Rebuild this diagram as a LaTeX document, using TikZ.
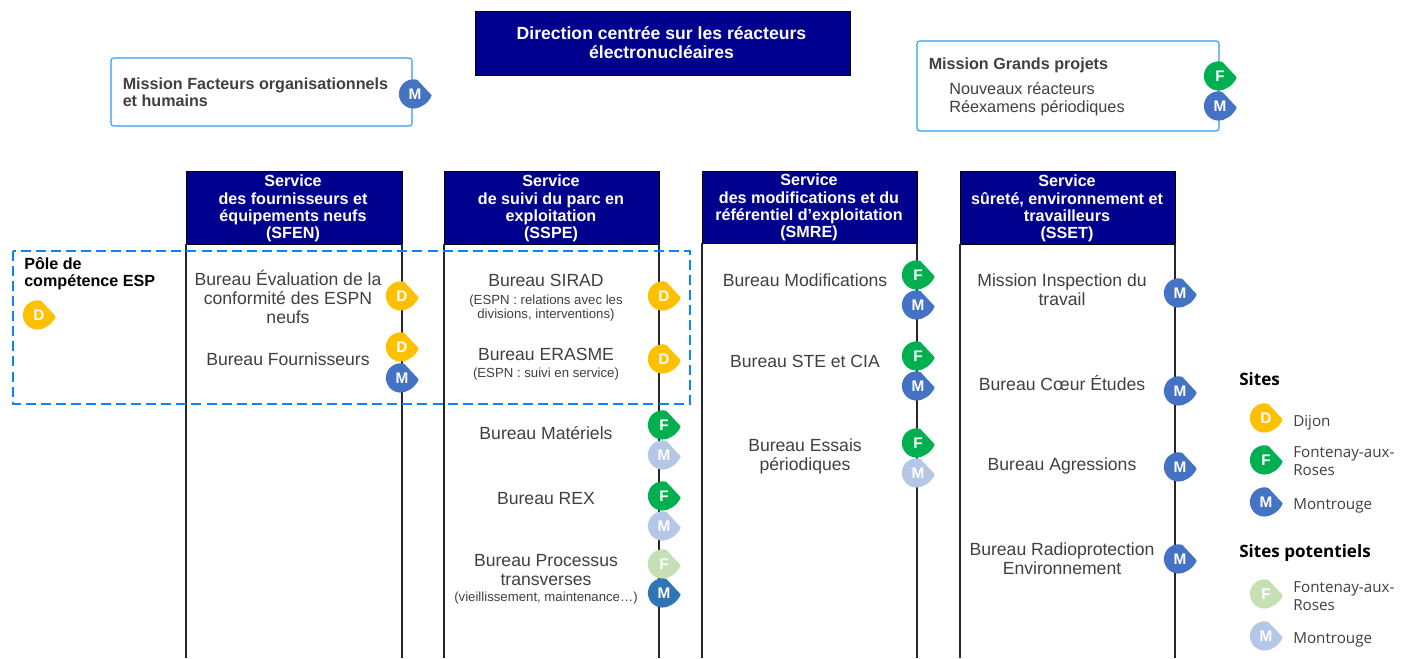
\documentclass[tikz,border=0pt]{standalone}
\usepackage{fontspec}
\setmainfont{Liberation Sans}
\newfontfamily\legfont{Open Sans}
\definecolor{navy}{HTML}{00008E}
\definecolor{txt}{HTML}{404040}
\definecolor{cD}{HTML}{FFC000}
\definecolor{cF}{HTML}{00B050}
\definecolor{cM}{HTML}{4472C4}
\definecolor{cMd}{HTML}{2E75B6}
\definecolor{cFp}{HTML}{C5E0B4}
\definecolor{cMp}{HTML}{B4C7E7}
\definecolor{boxblue}{HTML}{2E9BF0}
\definecolor{dashblue}{HTML}{0A84FF}
\newcommand{\fsz}[2]{\fontsize{#1}{#2}\selectfont}
% \badge{name}{x}{y}{colour}{letter}
\newcommand{\badge}[5]{%
  \fill[#4] (#2+2.3,-#3+14.1) -- (#2+16.7,-#3-1.3) .. controls (#2+15,-#3-6) and (#2+11,-#3-10.5) .. (#2+5.8,-#3-12.6) arc[start angle=-60,end angle=-285,radius=14.6] -- cycle;
  \node[badgetext] (#1) at (#2,-#3) {#5};}
\tikzset{
  x=0.75pt,y=0.75pt,
  badgetext/.style={text=white,font=\bfseries\fsz{11.5}{11.5},inner sep=0pt},
  head/.style={fill=navy,draw=black,line width=.5pt,inner sep=0pt,outer sep=0pt,anchor=north west},
  headtext/.style={text=white,font=\bfseries\fsz{12.1}{13},align=center,inner sep=0pt},
  bur/.style={text=txt,font=\fsz{13.2}{14.25},align=center,inner sep=0pt},
  sub/.style={text=txt,font=\fsz{9.9}{10.5},align=center,inner sep=0pt},
  mission/.style={draw=boxblue,line width=.8pt,rounded corners=2pt,fill=white,anchor=north west,inner sep=0pt,outer sep=0pt},
  boxtext/.style={text=txt,font=\bfseries\fsz{12.1}{12.75},align=left,inner sep=0pt,anchor=west},
  rail/.style={draw=black!85,line width=.95pt},
  leg/.style={text=txt,font=\legfont\fsz{11.4}{14},align=left,inner sep=0pt,anchor=west},
  leghead/.style={text=black,font=\legfont\bfseries\fsz{12.8}{13},inner sep=0pt,anchor=west},
}
\begin{document}
\begin{tikzpicture}
\useasboundingbox[fill=white] (0,0) rectangle (1411,-658);
% bottoms
\foreach \n/\x in {a/186,b/402,c/444,d/659,e/702,f/917,g/960,h/1175}{\coordinate (\n) at (\x,-658);}
% headers
\node[head,minimum width=216*0.75pt,minimum height=73*0.75pt] (sfen) at (186,-171) {};
\node[head,minimum width=215*0.75pt,minimum height=73*0.75pt] (sspe) at (444,-171) {};
\node[head,minimum width=215*0.75pt,minimum height=72*0.75pt] (smre) at (702,-171) {};
\node[head,minimum width=215*0.75pt,minimum height=73*0.75pt] (sset) at (960,-171) {};
\draw[rail] (sfen.south west) -- (a);
\draw[rail] (sfen.south east) -- (b);
\draw[rail] (sspe.south west) -- (c);
\draw[rail] (sspe.south east) -- (d);
\draw[rail] (smre.south west) -- (e);
\draw[rail] (smre.south east) -- (f);
\draw[rail] (sset.south west) -- (g);
\draw[rail] (sset.south east) -- (h);
\node[headtext] (t1) at (293,-208.5) {Service\\des fournisseurs et\\équipements neufs\\(SFEN)};
\node[headtext] (t2) at (551,-208.5) {Service\\de suivi du parc en\\exploitation\\(SSPE)};
\node[headtext] (t3) at (809,-207.5) {Service\\des modifications et du\\référentiel d’exploitation\\(SMRE)};
\node[headtext] (t4) at (1067,-208.5) {Service\\sûreté, environnement et\\travailleurs\\(SSET)};
% top
\node[fill=navy,draw=black,line width=.5pt,anchor=north west,minimum width=375*0.75pt,minimum height=64*0.75pt,inner sep=0pt,outer sep=0pt] (dir) at (475,-11) {};
\node[text=white,font=\bfseries\fsz{13.2}{14.25},align=center,inner sep=0pt] (dirt) at (661.5,-42.5) {Direction centrée sur les réacteurs\\électronucléaires};
\node[mission,minimum width=301*0.75pt,minimum height=68*0.75pt] (mfoh) at (111,-58) {};
\node[boxtext] (mfoht) at (122.5,-92) {Mission Facteurs organisationnels\\et humains};
\node[mission,minimum width=302*0.75pt,minimum height=90*0.75pt] (mgp) at (917,-41) {};
\node[boxtext] (mgpt) at (928.5,-65) {Mission Grands projets};
\node[text=txt,font=\fsz{12.2}{13.5},align=left,inner sep=0pt,anchor=west] (mgp2) at (949,-99) {Nouveaux réacteurs\\Réexamens périodiques};
% dashed
\draw[dashblue,line width=1.2pt,dash pattern=on 7.5pt off 3.8pt] (13,-251) rectangle (690,-404);
\node[text=black,font=\bfseries\fsz{12.1}{12.75},align=left,inner sep=0pt,anchor=west] (pole) at (24,-274) {Pôle de\\compétence ESP};
% col 1
\node[bur] (b11) at (288,-297) {Bureau Évaluation de la\\conformité des ESPN\\neufs};
\node[bur] (b12) at (288,-359) {Bureau Fournisseurs};
% col 2
\node[bur] (b21) at (546,-280) {Bureau SIRAD};
\node[sub] (b21s) at (546,-308) {(ESPN : relations avec les\\divisions, interventions)};
\node[bur] (b22) at (546,-354) {Bureau ERASME};
\node[sub] (b22s) at (546,-374) {(ESPN : suivi en service)};
\node[bur] (b23) at (546,-433) {Bureau Matériels};
\node[bur] (b24) at (546,-499) {Bureau REX};
\node[bur] (b25) at (546,-570) {Bureau Processus\\transverses};
\node[sub] (b25s) at (546,-598) {(vieillissement, maintenance…)};
% col 3
\node[bur] (b31) at (805,-280) {Bureau Modifications};
\node[bur] (b32) at (805,-361) {Bureau STE et CIA};
\node[bur] (b33) at (805,-456.5) {Bureau Essais\\périodiques};
% col 4
\node[bur] (b41) at (1062,-290) {Mission Inspection du\\travail};
\node[bur] (b42) at (1062,-383) {Bureau Cœur Études};
\node[bur] (b43) at (1062,-466) {Bureau Agressions};
\node[bur] (b44) at (1062,-559) {Bureau Radioprotection\\Environnement};
% badges
\badge{s1}{415}{94}{cM}{M}
\badge{s2}{1220}{76}{cF}{F}
\badge{s3}{1220}{106}{cM}{M}
\badge{s4}{39}{315}{cD}{D}
\badge{s5}{402}{296}{cD}{D}
\badge{s6}{402}{347}{cD}{D}
\badge{s7}{402}{378}{cM}{M}
\badge{s8}{664}{296}{cD}{D}
\badge{s9}{664}{359}{cD}{D}
\badge{s10}{664}{425}{cF}{F}
\badge{s11}{664}{455}{cMp}{M}
\badge{s12}{664}{496}{cF}{F}
\badge{s13}{664}{526}{cMp}{M}
\badge{s14}{664}{564}{cFp}{F}
\badge{s15}{664}{593}{cMd}{M}
\badge{s16}{918}{275}{cF}{F}
\badge{s17}{918}{305}{cM}{M}
\badge{s18}{918}{356}{cF}{F}
\badge{s19}{918}{386}{cM}{M}
\badge{s20}{918}{443}{cF}{F}
\badge{s21}{918}{473}{cMp}{M}
\badge{s22}{1180}{293}{cM}{M}
\badge{s23}{1180}{391}{cM}{M}
\badge{s24}{1180}{467}{cM}{M}
\badge{s25}{1180}{559}{cM}{M}
% legend
\node[leghead] (lh1) at (1239,-379) {Sites};
\badge{l1}{1266}{418}{cD}{D}
\node[leg] (lt1) at (1293,-423) {Dijon};
\badge{l2}{1266}{460}{cF}{F}
\node[leg] (lt2) at (1293,-461) {Fontenay-aux-\\Roses};
\badge{l3}{1266}{502}{cM}{M}
\node[leg] (lt3) at (1293,-506) {Montrouge};
\node[leghead] (lh2) at (1239,-553) {Sites potentiels};
\badge{l4}{1266}{594}{cFp}{F}
\node[leg] (lt4) at (1293,-596) {Fontenay-aux-\\Roses};
\badge{l5}{1266}{636}{cMp}{M}
\node[leg] (lt5) at (1293,-640) {Montrouge};
\end{tikzpicture}
\end{document}
